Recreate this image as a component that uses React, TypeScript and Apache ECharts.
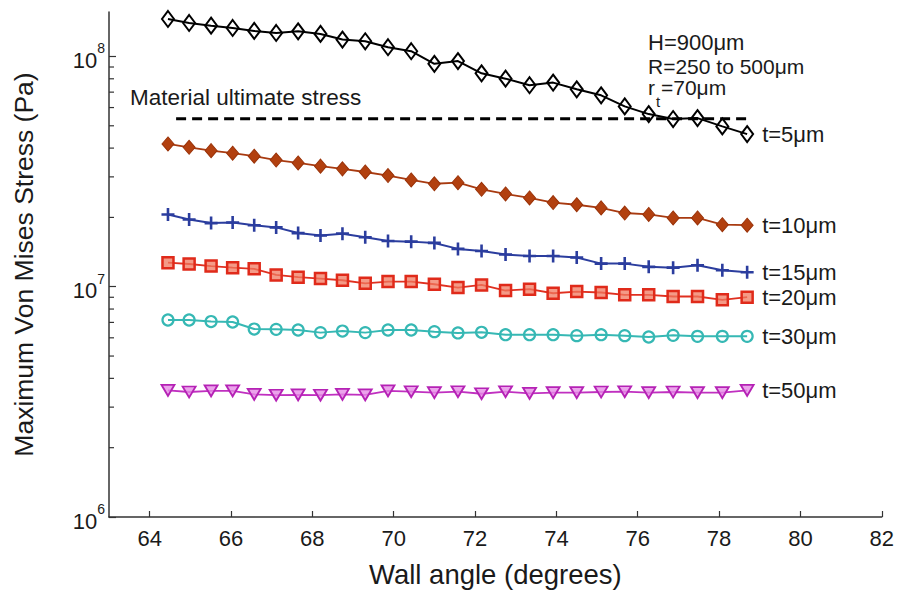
import React, { useEffect, useRef } from "react";
import * as echarts from "echarts";

// Wall angle (degrees) of each simulated geometry
const wallAngle = [
  64.45, 64.97, 65.51, 66.04, 66.57, 67.11, 67.65, 68.2, 68.74, 69.3, 69.86, 70.43, 71.0,
  71.58, 72.16, 72.75, 73.34, 73.92, 74.5, 75.1, 75.68, 76.27, 76.87, 77.47, 78.08, 78.69,
];

// Maximum Von Mises stress (Pa) per membrane thickness
const stressT5 = [
  1.455e8, 1.398e8, 1.361e8, 1.33e8, 1.291e8, 1.265e8, 1.286e8, 1.253e8, 1.184e8, 1.164e8,
  1.097e8, 1.054e8, 9.29e7, 9.55e7, 8.45e7, 8.01e7, 7.5e7, 7.7e7, 7.2e7, 6.78e7, 6.07e7,
  5.62e7, 5.35e7, 5.4e7, 4.97e7, 4.6e7,
];
const stressT10 = [
  4.17e7, 4.03e7, 3.9e7, 3.8e7, 3.69e7, 3.55e7, 3.45e7, 3.34e7, 3.25e7, 3.15e7, 3.04e7,
  2.91e7, 2.8e7, 2.83e7, 2.65e7, 2.53e7, 2.43e7, 2.32e7, 2.27e7, 2.2e7, 2.09e7, 2.06e7,
  1.99e7, 1.99e7, 1.86e7, 1.85e7,
];
const stressT15 = [
  2.06e7, 1.96e7, 1.89e7, 1.9e7, 1.85e7, 1.81e7, 1.71e7, 1.67e7, 1.7e7, 1.64e7, 1.58e7,
  1.57e7, 1.55e7, 1.46e7, 1.43e7, 1.38e7, 1.36e7, 1.36e7, 1.34e7, 1.26e7, 1.26e7, 1.22e7,
  1.21e7, 1.24e7, 1.18e7, 1.155e7,
];
const stressT20 = [
  1.272e7, 1.255e7, 1.23e7, 1.21e7, 1.196e7, 1.125e7, 1.1e7, 1.085e7, 1.067e7, 1.035e7,
  1.053e7, 1.053e7, 1.025e7, 9.92e6, 1.018e7, 9.63e6, 9.755e6, 9.37e6, 9.53e6, 9.44e6,
  9.22e6, 9.22e6, 9.07e6, 9.07e6, 8.77e6, 9.01e6,
];
const stressT30 = [
  7.17e6, 7.17e6, 7.06e6, 7.03e6, 6.55e6, 6.53e6, 6.49e6, 6.32e6, 6.42e6, 6.32e6, 6.49e6,
  6.49e6, 6.38e6, 6.3e6, 6.34e6, 6.19e6, 6.19e6, 6.19e6, 6.13e6, 6.19e6, 6.13e6, 6.05e6,
  6.15e6, 6.09e6, 6.09e6, 6.09e6,
];
const stressT50 = [
  3.55e6, 3.49e6, 3.53e6, 3.53e6, 3.41e6, 3.38e6, 3.39e6, 3.38e6, 3.41e6, 3.39e6, 3.53e6,
  3.5e6, 3.47e6, 3.5e6, 3.43e6, 3.5e6, 3.44e6, 3.47e6, 3.47e6, 3.49e6, 3.5e6, 3.47e6,
  3.49e6, 3.47e6, 3.47e6, 3.55e6,
];

const seriesNames = ["t=5μm", "t=10μm", "t=15μm", "t=20μm", "t=30μm", "t=50μm"];

// Material ultimate stress reference line
const ultimateStress = 5.37e7;
const ultimateRange = [64.65, 78.7];

// Axes
const xMin = 63;
const xMax = 82;
const xTicks = [64, 66, 68, 70, 72, 74, 76, 78, 80, 82];
const yMin = 1e6;
const yMax = 1.56e8;
const yMinorTicks = [
  2e6, 3e6, 4e6, 5e6, 6e6, 7e6, 8e6, 9e6, 2e7, 3e7, 4e7, 5e7, 6e7, 7e7, 8e7, 9e7,
];

const FONT = '"Liberation Sans", Arial, Helvetica, sans-serif';
const TEXT = "#1a1a1a";
const AXIS = "#333333";

function curve(
  name: string,
  values: number[],
  color: string,
  symbol: string,
  symbolSize: number | number[],
  itemStyle: any,
  lineWidth: number
) {
  return {
    type: "line",
    name,
    data: wallAngle.map((x, i) => [x, values[i]]),
    symbol,
    symbolSize,
    showAllSymbol: true,
    lineStyle: { color, width: lineWidth },
    itemStyle,
    endLabel: {
      show: true,
      formatter: name,
      color: TEXT,
      fontSize: 22,
      fontFamily: FONT,
      distance: 15,
    },
    emphasis: { disabled: true },
    z: 3,
  };
}

export default function App() {
  const ref = useRef<HTMLDivElement>(null);

  useEffect(() => {
    document.body.style.margin = "0";
    const chart = echarts.init(ref.current!, null, { renderer: "svg" });

    const textStyle = { fontSize: 22, fontFamily: FONT, fill: TEXT, verticalAlign: "middle", align: "left" };
    const noteStyle = { ...textStyle, fontSize: 21, lineHeight: 19 };

    const option: any = {
      animation: false,
      backgroundColor: "#ffffff",
      grid: { left: 109, top: 12, right: 15, bottom: 73 },
      xAxis: {
        type: "value",
        min: xMin,
        max: xMax,
        name: "Wall angle (degrees)",
        nameLocation: "middle",
        nameGap: 43,
        nameTextStyle: { fontSize: 27.5, fontFamily: FONT, color: TEXT },
        axisLine: { show: true, lineStyle: { color: AXIS, width: 1.5 } },
        axisTick: {
          show: true,
          inside: true,
          length: 6,
          customValues: xTicks,
          lineStyle: { color: AXIS, width: 1.2 },
        },
        axisLabel: {
          customValues: xTicks,
          fontSize: 22,
          fontFamily: FONT,
          color: TEXT,
          margin: 10,
        },
        splitLine: { show: false },
      },
      yAxis: {
        type: "log",
        logBase: 10,
        min: yMin,
        max: yMax,
        name: "Maximum Von Mises Stress (Pa)",
        nameLocation: "middle",
        nameGap: 72,
        nameTextStyle: { fontSize: 26.5, fontFamily: FONT, color: TEXT },
        axisLine: { show: true, lineStyle: { color: AXIS, width: 1.5 } },
        axisTick: { show: true, inside: true, length: 7, lineStyle: { color: AXIS, width: 1.2 } },
        axisLabel: {
          showMaxLabel: false,
          margin: 4,
          formatter: (v: number) => {
            const e = Math.log10(v);
            if (Math.abs(e - Math.round(e)) > 1e-6) return "";
            return `{b|10}{s|${Math.round(e)}}`;
          },
          rich: {
            b: { fontSize: 22, fontFamily: FONT, color: TEXT, lineHeight: 30, verticalAlign: "bottom" },
            s: { fontSize: 14, fontFamily: FONT, color: TEXT, lineHeight: 30, verticalAlign: "top" },
          },
        },
        splitLine: { show: false },
        minorTick: { show: false },
      },
      graphic: [
        { type: "text", x: 130, y: 97, style: { ...textStyle, text: "Material ultimate stress", fontSize: 22.5 } },
        { type: "text", x: 648, y: 42, style: { ...noteStyle, text: "H=900μm", fontSize: 22 } },
        { type: "text", x: 648, y: 66, style: { ...noteStyle, text: "R=250 to 500μm" } },
        { type: "text", x: 648, y: 87, style: { ...noteStyle, text: "r" } },
        { type: "text", x: 656, y: 101, style: { ...textStyle, text: "t", fontSize: 15, lineHeight: 13 } },
        { type: "text", x: 661, y: 87, style: { ...noteStyle, text: "=70μm" } },
      ],
      series: [
        {
          type: "custom",
          name: "minorTicks",
          silent: true,
          data: yMinorTicks.map((v) => [xMin, v]),
          renderItem: (params: any, api: any) => {
            const p = api.coord([api.value(0), api.value(1)]);
            return {
              type: "line",
              shape: { x1: p[0], y1: p[1], x2: p[0] + 5, y2: p[1] },
              style: { stroke: AXIS, lineWidth: 1.2 },
            };
          },
          z: 1,
        },
        {
          type: "line",
          name: "ultimate",
          data: [
            [ultimateRange[0], ultimateStress],
            [ultimateRange[1], ultimateStress],
          ],
          symbol: "none",
          lineStyle: { color: "#000000", width: 3, type: [10, 6] },
          emphasis: { disabled: true },
          z: 2,
        },
        curve(
          seriesNames[0],
          stressT5,
          "#000000",
          "diamond",
          [12, 16],
          { color: "rgba(255,255,255,0)", borderColor: "#000000", borderWidth: 2 },
          2
        ),
        curve(
          seriesNames[1],
          stressT10,
          "#a83a10",
          "diamond",
          [12, 14],
          { color: "#b2400f", borderColor: "#9a3208", borderWidth: 1 },
          1.8
        ),
        curve(
          seriesNames[2],
          stressT15,
          "#2b3d9e",
          "path://M4,0H6V4H10V6H6V10H4V6H0V4H4Z",
          13,
          { color: "#2b3d9e" },
          2
        ),
        curve(
          seriesNames[3],
          stressT20,
          "#e03020",
          "rect",
          11,
          { color: "rgba(240,120,95,0.75)", borderColor: "#e02a1a", borderWidth: 2.5 },
          1.8
        ),
        curve(
          seriesNames[4],
          stressT30,
          "#36b8b4",
          "circle",
          11,
          { color: "rgba(255,255,255,0)", borderColor: "#36b8b4", borderWidth: 2.2 },
          2
        ),
        curve(
          seriesNames[5],
          stressT50,
          "#c030c0",
          "path://M0,0H12L6,10Z",
          [13, 11],
          { color: "rgba(230,140,230,0.8)", borderColor: "#b522b5", borderWidth: 1.8 },
          1.8
        ),
      ],
    };

    chart.setOption(option);
    return () => chart.dispose();
  }, []);

  return <div ref={ref} style={{ width: 897, height: 593 }} />;
}
